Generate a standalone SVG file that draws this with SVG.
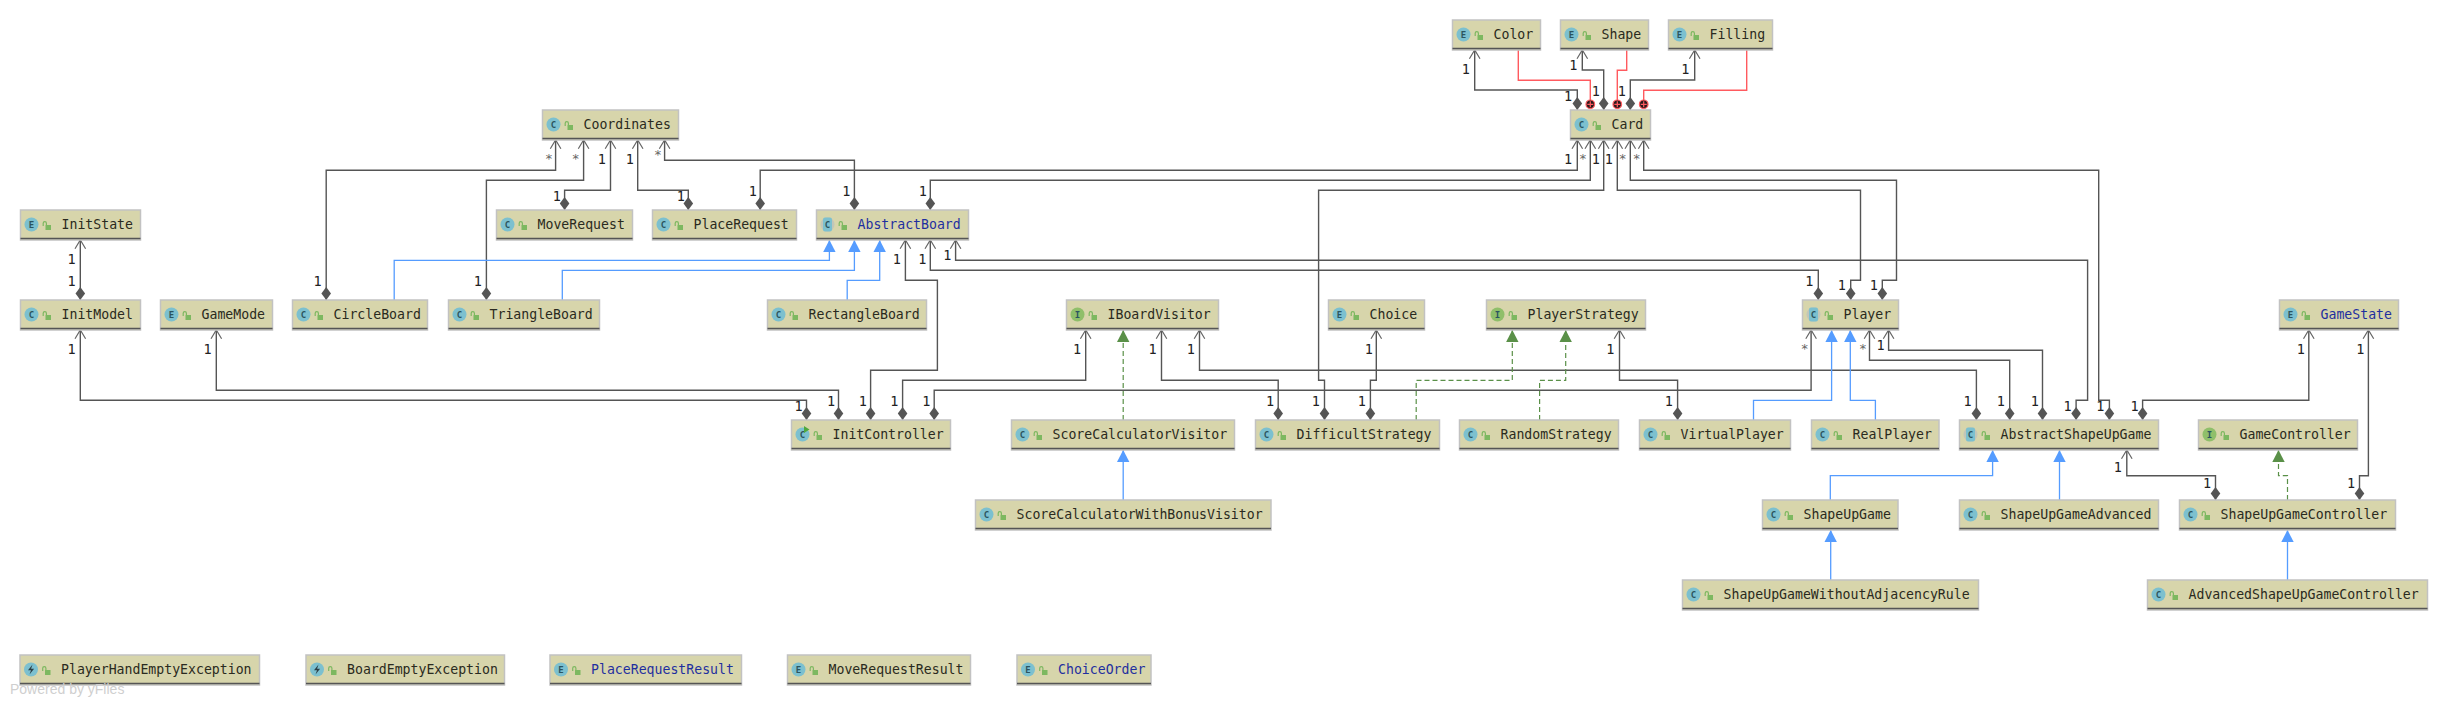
<svg xmlns="http://www.w3.org/2000/svg" width="2448" height="705" viewBox="0 0 2448 705">
<style>
.b{fill:#d7d5ab;stroke:#c2c2c2;stroke-width:1.5}
.u{stroke:#555;stroke-width:1.4;fill:none}
.t{font:13.2px "DejaVu Sans Mono","Liberation Mono",monospace;fill:#2a2a20}
.bl{fill:#1f2f9f}
.ic{fill:#7cc0cf}
.ii{fill:#8fbf6a}
.il{font:bold 9px "DejaVu Sans Mono",monospace;fill:#2c5560;text-anchor:middle}
.lk{fill:#7db860}
.ls{fill:none;stroke:#7db860;stroke-width:1.2}
.c{fill:none;stroke-width:1.4}
.d{stroke:#555;marker-start:url(#dia);marker-end:url(#open)}
.h{stroke:#559cff;stroke-width:1.3;marker-end:url(#tb)}
.r{stroke:#5a9048;stroke-width:1.2;stroke-dasharray:5 3;marker-end:url(#tg)}
.n{stroke:#ff5a5f}
.lb{font:13.5px "DejaVu Sans Mono","Liberation Mono",monospace;fill:#222;text-anchor:middle}
.st{font:13px "DejaVu Sans Mono","Liberation Mono",monospace;fill:#666;text-anchor:middle}
.pw{font:14px "Liberation Sans",Arial,sans-serif;fill:#cfcfcf}
</style>
<defs>
<marker id="open" markerUnits="userSpaceOnUse" markerWidth="14" markerHeight="16" refX="12" refY="7" orient="auto"><path d="M3.3 1.7 12 7 3.3 12.3" fill="none" stroke="#666" stroke-width="1.2"/></marker>
<marker id="dia" markerUnits="userSpaceOnUse" markerWidth="16" markerHeight="12" refX="1" refY="6" orient="auto"><path d="M1 6 7.5 1.2 14 6 7.5 10.8Z" fill="#555"/></marker>
<marker id="tb" markerUnits="userSpaceOnUse" markerWidth="14" markerHeight="14" refX="12" refY="7" orient="auto"><path d="M12 7 0 .8V13.2Z" fill="#559cff"/></marker>
<marker id="tg" markerUnits="userSpaceOnUse" markerWidth="14" markerHeight="14" refX="12" refY="7" orient="auto"><path d="M12 7 0 .8V13.2Z" fill="#5a9048"/></marker>
<g id="lock"><rect class="lk" x="25" y="15" width="5.5" height="5"/><path class="ls" d="M22.7 16V13.2a1.6 1.6 0 0 1 3.2 0V15"/></g>
<g id="ic-c"><circle class="ic" cx="11" cy="14.5" r="7"/><text class="il" x="11" y="17.6">C</text></g>
<g id="ic-e"><circle class="ic" cx="11" cy="14.5" r="7"/><text class="il" x="11" y="17.6">E</text></g>
<g id="ic-i"><circle class="ii" cx="11" cy="14.5" r="7"/><text class="il" x="11" y="17.6">I</text></g>
<g id="ic-a"><circle cx="11" cy="14.5" r="7" fill="#c2c6b8"/><rect class="ic" x="6.5" y="7.5" width="9" height="14" rx="2"/><text class="il" x="11" y="17.6">C</text></g>
<g id="ic-x"><circle class="ic" cx="11" cy="14.5" r="7"/><path d="M12.5 9.5 8 15.2h3l-1.5 4.4 4.6-5.8h-3z" fill="#2c4048"/></g>
<g id="ic-r"><circle class="ic" cx="11" cy="14.5" r="7"/><text class="il" x="11" y="17.6">C</text><path d="M12.5 6v7l5.5-3.5z" fill="#4fa83c"/></g>
<g id="plus"><circle cx="0" cy="0" r="4.3" fill="#2a1a1c" stroke="#ff5a5f" stroke-width="1.2"/><path d="M-3 0H3M0-3V3" stroke="#ff5a5f" stroke-width="1.2"/></g>
</defs>
<rect width="2448" height="705" fill="#fff"/>
<g id="connectors">
<g id="composition">
<path class="c d" d="M1577.3 110V90H1474.7V50"/>
<path class="c d" d="M1603.7 110V70H1582.3V50"/>
<path class="c d" d="M1630.3 110V80H1694.7V50"/>
<path class="c d" d="M760.2 210V170.3H1577.3V140"/>
<path class="c d" d="M930.3 210V180.3H1590.3V140"/>
<path class="c d" d="M1324.5 420V380.3H1318.6V190.3H1603.7V140"/>
<path class="c d" d="M1850.7 300V280.3H1860.5V190.3H1617.3V140"/>
<path class="c d" d="M1882.3 300V280.3H1896.5V180.3H1630.3V140"/>
<path class="c d" d="M2109.4 420V400.3H2098.7V170.3H1643.7V140"/>
<path class="c d" d="M2076.1 420V400.3H2087.6V260.3H955.6V240"/>
<path class="c d" d="M1818.3 300V270.3H930.3V240"/>
<path class="c d" d="M870.6 420V370.3H937.4V280.3H905.4V240"/>
<path class="c d" d="M854.4 210V160.3H664.6V140"/>
<path class="c d" d="M326.2 300V170.3H555.6V140"/>
<path class="c d" d="M486.4 300V180.3H583.6V140"/>
<path class="c d" d="M564.6 210V190.3H610.5V140"/>
<path class="c d" d="M688.3 210V190.3H637.7V140"/>
<path class="c d" d="M80.3 300V240"/>
<path class="c d" d="M806.5 420V400.3H80.3V330"/>
<path class="c d" d="M838.5 420V390.3H216.3V330"/>
<path class="c d" d="M902.6 420V380.3H1085.7V330"/>
<path class="c d" d="M934.2 420V390.3H1811.1V330"/>
<path class="c d" d="M1278.2 420V380.3H1161.5V330"/>
<path class="c d" d="M1976.4 420V370.3H1199.5V330"/>
<path class="c d" d="M1370.4 420V380.3H1376.3V330"/>
<path class="c d" d="M1677.6 420V380.3H1619.5V330"/>
<path class="c d" d="M2009.7 420V360.3H1869.5V330"/>
<path class="c d" d="M2042.5 420V350.3H1888.6V330"/>
<path class="c d" d="M2142.6 420V400.3H2308.8V330"/>
<path class="c d" d="M2359.5 500V475.7H2368.4V330"/>
<path class="c d" d="M2215.5 500V475.7H2126.8V450"/>
</g>
<g id="inheritance">
<path class="c h" d="M394.2 300V260.3H829.4V240"/>
<path class="c h" d="M562.3 300V270.3H854.4V240"/>
<path class="c h" d="M847.2 300V280.3H879.7V240"/>
<path class="c h" d="M1753.5 420V400.3H1831.6V330"/>
<path class="c h" d="M1875.4 420V400.3H1850.3V330"/>
<path class="c h" d="M1830.3 500V475.7H1992.6V450"/>
<path class="c h" d="M2059.5 500V450"/>
<path class="c h" d="M1830.7 580V530"/>
<path class="c h" d="M2287.5 580V530"/>
<path class="c h" d="M1123.2 500V450"/>
</g>
<g id="realization">
<path class="c r" d="M1416.2 420V380.3H1512.3V330"/>
<path class="c r" d="M1539.6 420V380.3H1565.7V330"/>
<path class="c r" d="M2287.5 500V475.7H2278.5V450"/>
<path class="c r" d="M1123.2 420V330"/>
</g>
<g id="inner">
<path class="c n" d="M1518.3 50V80.3H1590.3V100"/>
<path class="c n" d="M1626.7 50V70.3H1617.3V100"/>
<path class="c n" d="M1746.7 50V90.3H1643.7V100"/>
<use href="#plus" x="1590.3" y="104.3"/>
<use href="#plus" x="1617.3" y="104.3"/>
<use href="#plus" x="1643.7" y="104.3"/>
</g>
<g id="labels">
<text class="lb" x="1465.7" y="73.5">1</text><text class="lb" x="1568" y="100.5">1</text>
<text class="lb" x="1573.3" y="70">1</text><text class="lb" x="1595.7" y="95.5">1</text>
<text class="lb" x="1685.3" y="73.5">1</text><text class="lb" x="1621.7" y="95.5">1</text>
<text class="lb" x="1568" y="164">1</text><text class="st" x="1583" y="163">*</text>
<text class="lb" x="1595.7" y="164">1</text><text class="lb" x="1608.7" y="164">1</text>
<text class="st" x="1622.7" y="163">*</text><text class="st" x="1636.7" y="163">*</text>
<text class="lb" x="752.7" y="195.5">1</text><text class="lb" x="922.7" y="195.5">1</text>
<text class="lb" x="1315.8" y="405.5">1</text>
<text class="lb" x="1841.8" y="290">1</text><text class="lb" x="1873.7" y="290">1</text>
<text class="lb" x="2100.4" y="410.5">1</text><text class="lb" x="2067.6" y="410.5">1</text>
<text class="lb" x="947.3" y="260">1</text><text class="lb" x="1809.4" y="285.5">1</text>
<text class="lb" x="922.4" y="264">1</text><text class="lb" x="896.7" y="264">1</text>
<text class="lb" x="862.7" y="406">1</text>
<text class="st" x="657.8" y="159">*</text><text class="lb" x="846.4" y="195.5">1</text>
<text class="st" x="548.8" y="163">*</text><text class="lb" x="317.5" y="285.5">1</text>
<text class="st" x="575.7" y="163">*</text><text class="lb" x="477.7" y="285.5">1</text>
<text class="lb" x="601.8" y="164">1</text><text class="lb" x="556.7" y="200.5">1</text>
<text class="lb" x="629.8" y="164">1</text><text class="lb" x="680.8" y="200.5">1</text>
<text class="lb" x="71.6" y="264">1</text><text class="lb" x="71.6" y="285.5">1</text>
<text class="lb" x="71.6" y="353.5">1</text><text class="lb" x="798.6" y="410.5">1</text>
<text class="lb" x="207.6" y="353.5">1</text><text class="lb" x="831" y="406">1</text>
<text class="lb" x="1077" y="353.5">1</text><text class="lb" x="894.3" y="406">1</text>
<text class="st" x="1804.7" y="353">*</text><text class="lb" x="926.3" y="406">1</text>
<text class="lb" x="1152.5" y="353.5">1</text><text class="lb" x="1270" y="405.5">1</text>
<text class="lb" x="1190.8" y="353.5">1</text><text class="lb" x="1967.5" y="406">1</text>
<text class="lb" x="1368.8" y="353.5">1</text><text class="lb" x="1361.7" y="405.5">1</text>
<text class="lb" x="1610.4" y="353.5">1</text><text class="lb" x="1668.9" y="405.5">1</text>
<text class="st" x="1863" y="353">*</text><text class="lb" x="2000.7" y="406">1</text>
<text class="lb" x="1880.5" y="350">1</text><text class="lb" x="2034.8" y="406">1</text>
<text class="lb" x="2300.7" y="353.5">1</text><text class="lb" x="2134.5" y="410.5">1</text>
<text class="lb" x="2360.3" y="353.5">1</text><text class="lb" x="2351" y="487.5">1</text>
<text class="lb" x="2117.9" y="471.5">1</text><text class="lb" x="2207" y="487.5">1</text>
</g>
</g>
<g id="n-Color" transform="translate(1452.5 20)"><rect class="b" width="88" height="30"/><path class="u" d="M0 28.5H88"/><use href="#ic-e"/><use href="#lock"/><text class="t" x="41" y="19">Color</text></g>
<g id="n-Shape" transform="translate(1560.5 20)"><rect class="b" width="88" height="30"/><path class="u" d="M0 28.5H88"/><use href="#ic-e"/><use href="#lock"/><text class="t" x="41" y="19">Shape</text></g>
<g id="n-Filling" transform="translate(1668.5 20)"><rect class="b" width="104" height="30"/><path class="u" d="M0 28.5H104"/><use href="#ic-e"/><use href="#lock"/><text class="t" x="41" y="19">Filling</text></g>
<g id="n-Card" transform="translate(1570.5 110)"><rect class="b" width="80" height="30"/><path class="u" d="M0 28.5H80"/><use href="#ic-c"/><use href="#lock"/><text class="t" x="41" y="19">Card</text></g>
<g id="n-Coordinates" transform="translate(542.5 110)"><rect class="b" width="136" height="30"/><path class="u" d="M0 28.5H136"/><use href="#ic-c"/><use href="#lock"/><text class="t" x="41" y="19">Coordinates</text></g>
<g id="n-InitState" transform="translate(20.5 210)"><rect class="b" width="120" height="30"/><path class="u" d="M0 28.5H120"/><use href="#ic-e"/><use href="#lock"/><text class="t" x="41" y="19">InitState</text></g>
<g id="n-MoveRequest" transform="translate(496.5 210)"><rect class="b" width="136" height="30"/><path class="u" d="M0 28.5H136"/><use href="#ic-c"/><use href="#lock"/><text class="t" x="41" y="19">MoveRequest</text></g>
<g id="n-PlaceRequest" transform="translate(652.5 210)"><rect class="b" width="144" height="30"/><path class="u" d="M0 28.5H144"/><use href="#ic-c"/><use href="#lock"/><text class="t" x="41" y="19">PlaceRequest</text></g>
<g id="n-AbstractBoard" transform="translate(816.5 210)"><rect class="b" width="152" height="30"/><path class="u" d="M0 28.5H152"/><use href="#ic-a"/><use href="#lock"/><text class="t bl" x="41" y="19">AbstractBoard</text></g>
<g id="n-InitModel" transform="translate(20.5 300)"><rect class="b" width="120" height="30"/><path class="u" d="M0 28.5H120"/><use href="#ic-c"/><use href="#lock"/><text class="t" x="41" y="19">InitModel</text></g>
<g id="n-GameMode" transform="translate(160.5 300)"><rect class="b" width="112" height="30"/><path class="u" d="M0 28.5H112"/><use href="#ic-e"/><use href="#lock"/><text class="t" x="41" y="19">GameMode</text></g>
<g id="n-CircleBoard" transform="translate(292.5 300)"><rect class="b" width="135" height="30"/><path class="u" d="M0 28.5H135"/><use href="#ic-c"/><use href="#lock"/><text class="t" x="41" y="19">CircleBoard</text></g>
<g id="n-TriangleBoard" transform="translate(448.5 300)"><rect class="b" width="151" height="30"/><path class="u" d="M0 28.5H151"/><use href="#ic-c"/><use href="#lock"/><text class="t" x="41" y="19">TriangleBoard</text></g>
<g id="n-RectangleBoard" transform="translate(767.5 300)"><rect class="b" width="159" height="30"/><path class="u" d="M0 28.5H159"/><use href="#ic-c"/><use href="#lock"/><text class="t" x="41" y="19">RectangleBoard</text></g>
<g id="n-IBoardVisitor" transform="translate(1066.5 300)"><rect class="b" width="152" height="30"/><path class="u" d="M0 28.5H152"/><use href="#ic-i"/><use href="#lock"/><text class="t" x="41" y="19">IBoardVisitor</text></g>
<g id="n-Choice" transform="translate(1328.5 300)"><rect class="b" width="96" height="30"/><path class="u" d="M0 28.5H96"/><use href="#ic-e"/><use href="#lock"/><text class="t" x="41" y="19">Choice</text></g>
<g id="n-PlayerStrategy" transform="translate(1486.5 300)"><rect class="b" width="159" height="30"/><path class="u" d="M0 28.5H159"/><use href="#ic-i"/><use href="#lock"/><text class="t" x="41" y="19">PlayerStrategy</text></g>
<g id="n-Player" transform="translate(1802.5 300)"><rect class="b" width="96" height="30"/><path class="u" d="M0 28.5H96"/><use href="#ic-a"/><use href="#lock"/><text class="t" x="41" y="19">Player</text></g>
<g id="n-GameState" transform="translate(2279.5 300)"><rect class="b" width="119" height="30"/><path class="u" d="M0 28.5H119"/><use href="#ic-e"/><use href="#lock"/><text class="t bl" x="41" y="19">GameState</text></g>
<g id="n-InitController" transform="translate(791.5 420)"><rect class="b" width="159" height="30"/><path class="u" d="M0 28.5H159"/><use href="#ic-r"/><use href="#lock"/><text class="t" x="41" y="19">InitController</text></g>
<g id="n-ScoreCalculatorVisitor" transform="translate(1011.5 420)"><rect class="b" width="223" height="30"/><path class="u" d="M0 28.5H223"/><use href="#ic-c"/><use href="#lock"/><text class="t" x="41" y="19">ScoreCalculatorVisitor</text></g>
<g id="n-DifficultStrategy" transform="translate(1255.5 420)"><rect class="b" width="184" height="30"/><path class="u" d="M0 28.5H184"/><use href="#ic-c"/><use href="#lock"/><text class="t" x="41" y="19">DifficultStrategy</text></g>
<g id="n-RandomStrategy" transform="translate(1459.5 420)"><rect class="b" width="159" height="30"/><path class="u" d="M0 28.5H159"/><use href="#ic-c"/><use href="#lock"/><text class="t" x="41" y="19">RandomStrategy</text></g>
<g id="n-VirtualPlayer" transform="translate(1639.5 420)"><rect class="b" width="151" height="30"/><path class="u" d="M0 28.5H151"/><use href="#ic-c"/><use href="#lock"/><text class="t" x="41" y="19">VirtualPlayer</text></g>
<g id="n-RealPlayer" transform="translate(1811.5 420)"><rect class="b" width="127.5" height="30"/><path class="u" d="M0 28.5H127.5"/><use href="#ic-c"/><use href="#lock"/><text class="t" x="41" y="19">RealPlayer</text></g>
<g id="n-AbstractShapeUpGame" transform="translate(1959.5 420)"><rect class="b" width="199" height="30"/><path class="u" d="M0 28.5H199"/><use href="#ic-a"/><use href="#lock"/><text class="t" x="41" y="19">AbstractShapeUpGame</text></g>
<g id="n-GameController" transform="translate(2198.5 420)"><rect class="b" width="159" height="30"/><path class="u" d="M0 28.5H159"/><use href="#ic-i"/><use href="#lock"/><text class="t" x="41" y="19">GameController</text></g>
<g id="n-ScoreCalculatorWithBonusVisitor" transform="translate(975.5 500)"><rect class="b" width="295.5" height="30"/><path class="u" d="M0 28.5H295.5"/><use href="#ic-c"/><use href="#lock"/><text class="t" x="41" y="19">ScoreCalculatorWithBonusVisitor</text></g>
<g id="n-ShapeUpGame" transform="translate(1762.5 500)"><rect class="b" width="135.5" height="30"/><path class="u" d="M0 28.5H135.5"/><use href="#ic-c"/><use href="#lock"/><text class="t" x="41" y="19">ShapeUpGame</text></g>
<g id="n-ShapeUpGameAdvanced" transform="translate(1959.5 500)"><rect class="b" width="199" height="30"/><path class="u" d="M0 28.5H199"/><use href="#ic-c"/><use href="#lock"/><text class="t" x="41" y="19">ShapeUpGameAdvanced</text></g>
<g id="n-ShapeUpGameController" transform="translate(2179.5 500)"><rect class="b" width="216" height="30"/><path class="u" d="M0 28.5H216"/><use href="#ic-c"/><use href="#lock"/><text class="t" x="41" y="19">ShapeUpGameController</text></g>
<g id="n-ShapeUpGameWithoutAdjacencyRule" transform="translate(1682.5 580)"><rect class="b" width="296" height="30"/><path class="u" d="M0 28.5H296"/><use href="#ic-c"/><use href="#lock"/><text class="t" x="41" y="19">ShapeUpGameWithoutAdjacencyRule</text></g>
<g id="n-AdvancedShapeUpGameController" transform="translate(2147.5 580)"><rect class="b" width="280" height="30"/><path class="u" d="M0 28.5H280"/><use href="#ic-c"/><use href="#lock"/><text class="t" x="41" y="19">AdvancedShapeUpGameController</text></g>
<g id="n-PlayerHandEmptyException" transform="translate(20 655)"><rect class="b" width="239.5" height="30"/><path class="u" d="M0 28.5H239.5"/><use href="#ic-x"/><use href="#lock"/><text class="t" x="41" y="19">PlayerHandEmptyException</text></g>
<g id="n-BoardEmptyException" transform="translate(306 655)"><rect class="b" width="198.5" height="30"/><path class="u" d="M0 28.5H198.5"/><use href="#ic-x"/><use href="#lock"/><text class="t" x="41" y="19">BoardEmptyException</text></g>
<g id="n-PlaceRequestResult" transform="translate(550 655)"><rect class="b" width="191.5" height="30"/><path class="u" d="M0 28.5H191.5"/><use href="#ic-e"/><use href="#lock"/><text class="t bl" x="41" y="19">PlaceRequestResult</text></g>
<g id="n-MoveRequestResult" transform="translate(787.5 655)"><rect class="b" width="183" height="30"/><path class="u" d="M0 28.5H183"/><use href="#ic-e"/><use href="#lock"/><text class="t" x="41" y="19">MoveRequestResult</text></g>
<g id="n-ChoiceOrder" transform="translate(1017 655)"><rect class="b" width="134" height="30"/><path class="u" d="M0 28.5H134"/><use href="#ic-e"/><use href="#lock"/><text class="t bl" x="41" y="19">ChoiceOrder</text></g>
<text class="pw" x="10" y="694">Powered by yFiles</text>
</svg>
